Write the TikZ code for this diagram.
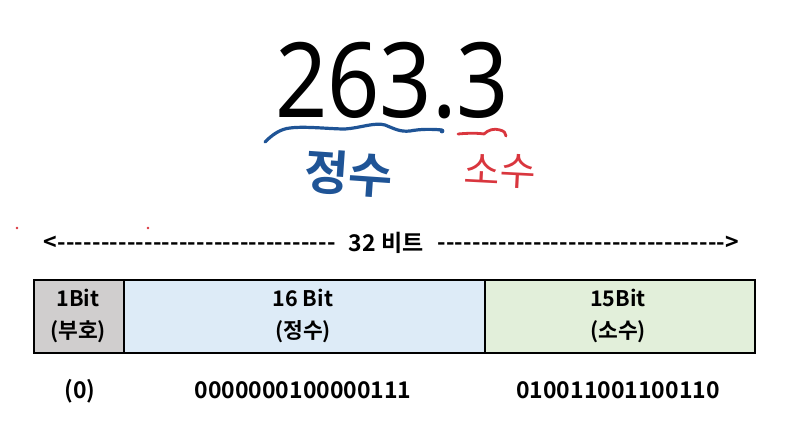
\documentclass[tikz,border=0pt]{standalone}
\usepackage{fontspec}
\setmainfont{Noto Sans CJK KR}[BoldFont={Noto Sans CJK KR Bold}]
\newfontfamily\numfont{Noto Sans}
\definecolor{penblue}{HTML}{1F5496}
\definecolor{penred}{HTML}{D9363E}
\definecolor{signgray}{HTML}{D0CECE}
\definecolor{intblue}{HTML}{DDEBF7}
\definecolor{fracgreen}{HTML}{E2EFDA}
\tikzset{
  cell/.style={draw=black, line width=2pt, minimum height=73pt, anchor=north west, inner sep=0pt},
  celltext/.style={font=\bfseries\fontsize{21.5}{25}\selectfont, align=center, inner sep=0pt},
  arrowtext/.style={font=\bfseries\fontsize{23}{27}\selectfont, inner sep=0pt},
  bintext/.style={font=\bfseries\fontsize{23}{27}\selectfont, inner sep=0pt},
  pen/.style={line width=3.2pt, line cap=round, line join=round},
}
\begin{document}
\begin{tikzpicture}[x=1pt,y=-1pt]
\useasboundingbox (0,0) rectangle (788,426);
% big number
\node[font=\numfont\fontsize{104}{110}\selectfont, xscale=0.88, inner sep=0pt, anchor=base] (num) at (392,117) {263.3};
% handwritten underlines
\draw[pen, penblue] (265,142) .. controls (272,135) and (280,129) .. (290,128)
  .. controls (305,126) and (330,129) .. (345,129)
  .. controls (360,128) and (375,122) .. (385,125)
  .. controls (395,129) and (400,132) .. (410,131)
  .. controls (420,129) and (432,129) .. (442,130);
\fill[penblue] (442,131) circle (2.4pt);
\draw[pen, penred, line width=2.8pt] (458,134) .. controls (468,133) and (478,133) .. (484,134)
  .. controls (488,130) and (494,128) .. (500,130)
  .. controls (504,131) and (506,133) .. (506,136);
% handwritten words (as text)
\node[font=\bfseries\fontsize{48}{52}\selectfont, text=penblue, rotate=-4, inner sep=0pt] (jeongsu) at (349,174) {정수};
\node[font=\fontsize{39}{43}\selectfont, text=penred, rotate=-3, inner sep=0pt] (sosu) at (500,171) {소수};
% red dots
\fill[penred] (17,228) circle (1.3pt);
\fill[penred] (148,228) circle (1.3pt);
% 32 bit label
\node[arrowtext] (bits) at (386,243) {32 비트};
\node[arrowtext, anchor=east] (larrow) at (336,243) {\hbox to 292pt{<\xleaders\hbox{-}\hfill}};
\node[arrowtext, anchor=west] (rarrow) at (437,243) {\hbox to 302pt{\xleaders\hbox{-}\hfill>}};
% table
\node[cell, fill=signgray, minimum width=90pt] (sign) at (33,279) {};
\node[cell, fill=intblue, minimum width=361pt] (intg) at (123,279) {};
\node[cell, fill=fracgreen, minimum width=270pt] (frac) at (484,279) {};
\node[celltext] (t1a) at (78,298) {1Bit};
\node[celltext] (t1b) at (78,332) {(부호)};
\node[celltext] (t2a) at (303,298) {16 Bit};
\node[celltext] (t2b) at (303,332) {(정수)};
\node[celltext] (t3a) at (618,298) {15Bit};
\node[celltext] (t3b) at (618,332) {(소수)};
% binary values
\node[bintext] (b1) at (80,391) {(0)};
\node[bintext] (b2) at (303,390) {0000000100000111};
\node[bintext] (b3) at (618,390) {010011001100110};
\end{tikzpicture}
\end{document}
